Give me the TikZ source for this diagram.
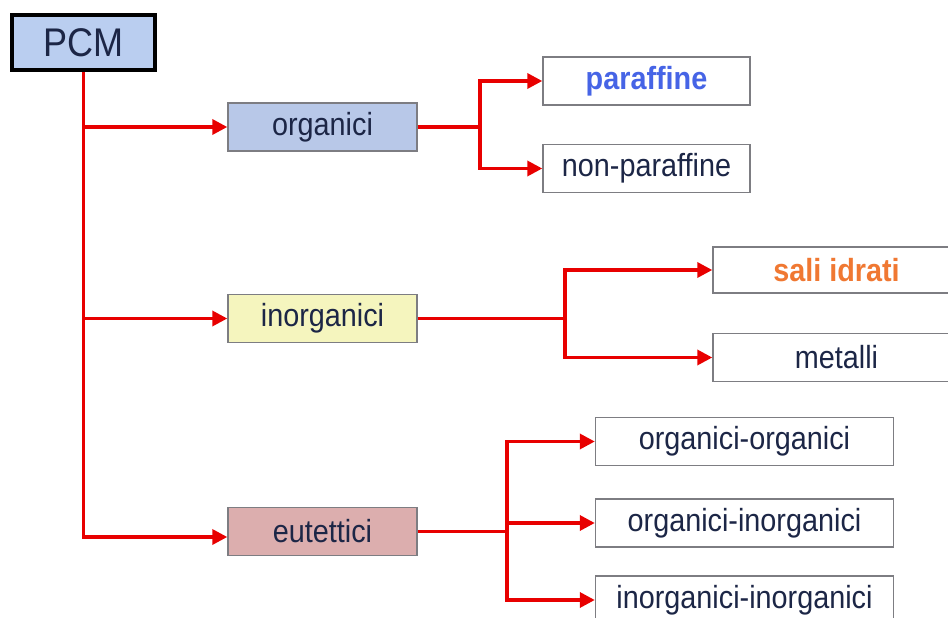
\documentclass[tikz,border=0pt]{standalone}
\usepackage{fontspec}
\setmainfont{Liberation Sans}[FakeStretch=0.9]
\usetikzlibrary{arrows.meta}
\definecolor{navy}{RGB}{28,38,70}
\definecolor{pcmfill}{RGB}{186,206,240}
\definecolor{orgfill}{RGB}{184,200,232}
\definecolor{inofill}{RGB}{245,245,190}
\definecolor{eutfill}{RGB}{220,174,174}
\definecolor{boxline}{RGB}{125,125,130}
\definecolor{conred}{RGB}{232,0,0}
\definecolor{parblue}{RGB}{70,100,230}
\definecolor{saliorange}{RGB}{240,120,50}
\tikzset{
  leaf/.style={draw=boxline, line width=1.4pt, fill=white, inner sep=0pt,
    minimum height=48pt, text=navy, font=\fontsize{32}{36}\selectfont},
  midbox/.style={draw=boxline, line width=1.4pt, inner sep=0pt,
    minimum width=189pt, minimum height=48pt, text=navy, font=\fontsize{32}{36}\selectfont},
  conn/.style={draw=conred, line width=3.4pt},
  arr/.style={conn, -{Triangle[length=15pt,width=15pt]}}
}
\begin{document}
\begin{tikzpicture}[x=1pt,y=-1pt]
\useasboundingbox (0,0) rectangle (948,618);
\clip (0,0) rectangle (948,618);
\fill[white] (0,0) rectangle (948,618);
% nodes
\node[draw=black, line width=4pt, fill=pcmfill, inner sep=0pt, minimum width=143pt,
  minimum height=55pt, text=navy, font=\fontsize{40}{44}\selectfont] (pcm) at (83.5,42.5) {PCM};
\node[midbox, fill=orgfill] (org) at (322.5,127) {organici};
\node[midbox, fill=inofill] (ino) at (322.5,318.5) {inorganici};
\node[midbox, fill=eutfill] (eut) at (322.5,531.5) {eutettici};
\node[leaf, minimum width=207pt, text=parblue, font=\fontsize{32}{36}\selectfont\bfseries] (par) at (646.5,81) {paraffine};
\node[leaf, minimum width=207pt] (npar) at (646.5,168.5) {non-paraffine};
\node[leaf, minimum width=247pt, minimum height=46pt, text=saliorange, font=\fontsize{32}{36}\selectfont\bfseries] (sali) at (836.5,270) {sali idrati};
\node[leaf, minimum width=247pt] (met) at (836.5,357.5) {metalli};
\node[leaf, minimum width=298pt] (oo) at (744.5,441.5) {organici-organici};
\node[leaf, minimum width=298pt] (oi) at (744.5,523) {organici-inorganici};
\node[leaf, minimum width=298pt] (ii) at (744.5,600) {inorganici-inorganici};
% trunk
\draw[arr] (pcm.south) |- ([yshift=-5.5pt]eut.west);
\draw[arr] (pcm.south |- org.west) -- (org.west);
\draw[arr] (pcm.south |- ino.west) -- (ino.west);
% organici branch
\coordinate (b1) at (480,127);
\draw[conn] (org.east) -- (b1);
\draw[arr] (b1) |- (par.west);
\draw[arr] (b1) |- (npar.west);
% inorganici branch
\coordinate (b2) at (565,318.5);
\draw[conn] (ino.east) -- (b2);
\draw[arr] (b2) |- (sali.west);
\draw[arr] (b2) |- (met.west);
% eutettici branch
\coordinate (b3) at (507,531.5);
\draw[conn] (eut.east) -- (b3);
\draw[arr] (b3) |- (oo.west);
\draw[arr] (b3) |- (oi.west);
\draw[arr] (b3) |- (ii.west);
\end{tikzpicture}
\end{document}
